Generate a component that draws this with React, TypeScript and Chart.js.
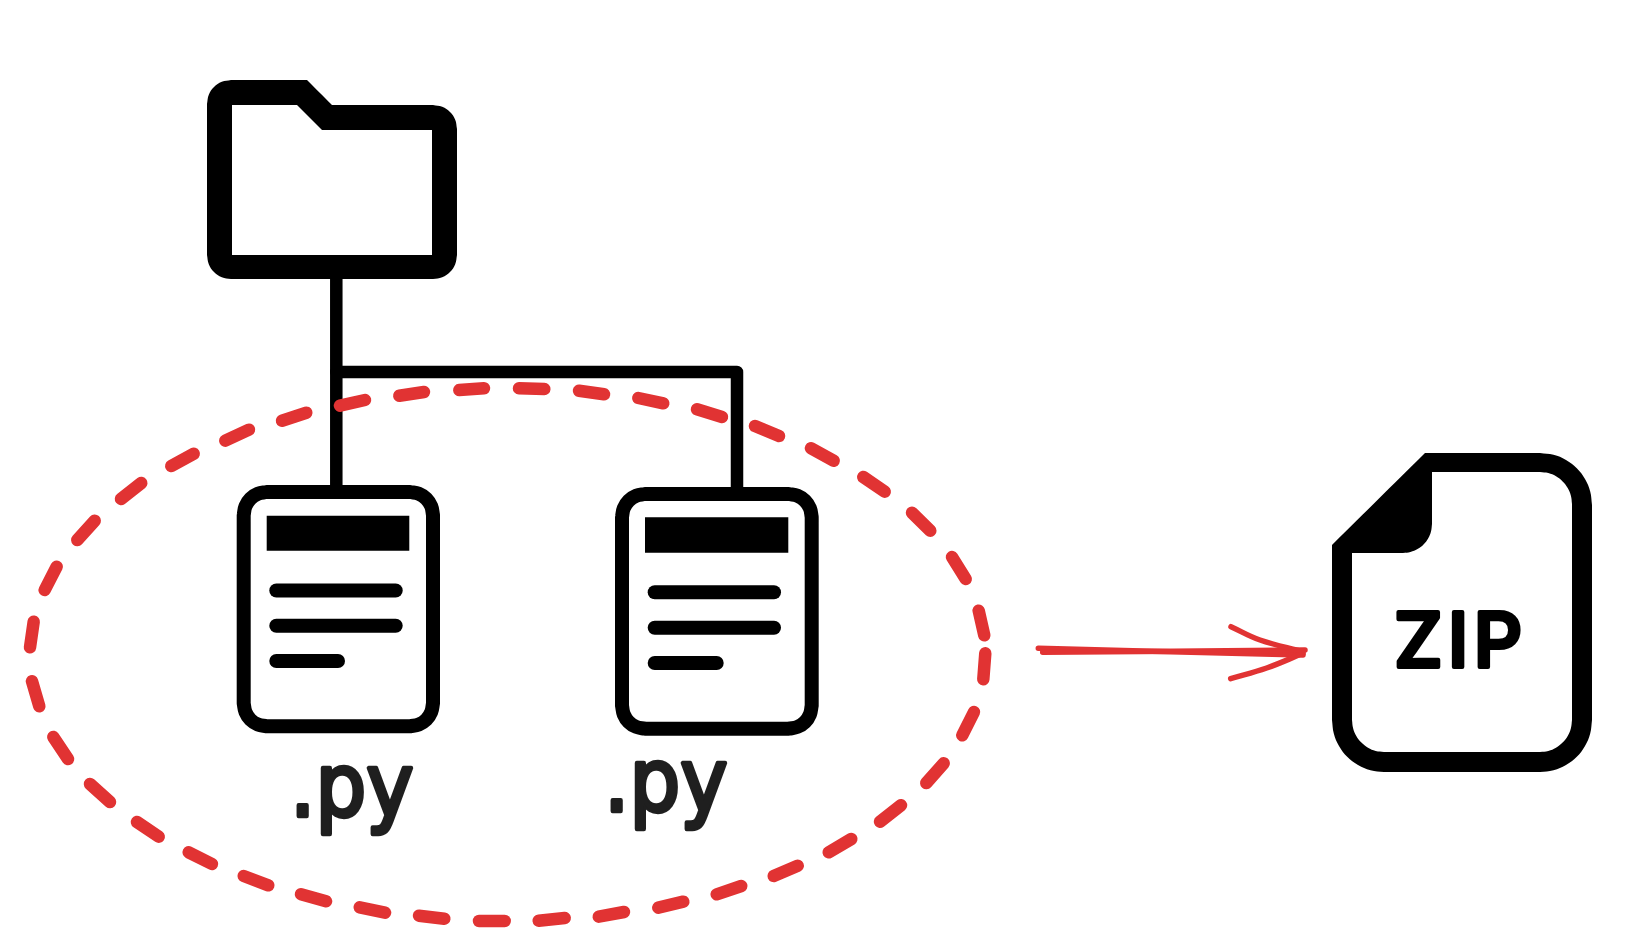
import {useEffect, useRef} from 'react'
import {Chart, registerables} from 'chart.js'
import type {Plugin} from 'chart.js'

Chart.register(...registerables)

type Pair = [number, number]

const ink = '#000000'
const red = '#e13333'
const handInk = '#1f1f1f'
const cornerTension = 0.4

// every list below is read off the picture, in image pixels
// a point listed twice keeps the neighbouring edge straight when the outline is smoothed
const folderOuter: Pair[] = [
    [207, 104], [207, 104], [208.8, 94.8], [214, 87], [221.8, 81.8], [231, 80], [231, 80], [307, 80], [307, 80],
    [332, 105], [332, 105], [433, 105], [433, 105], [442.2, 106.8], [450, 112], [455.2, 119.8], [457, 129],
    [457, 129], [457, 255], [457, 255], [455.2, 264.2], [450, 272], [442.2, 277.2], [433, 279], [433, 279],
    [231, 279], [231, 279], [221.8, 277.2], [214, 272], [208.8, 264.2], [207, 255], [207, 255], [207, 104],
]
const folderInner: Pair[] = [[232, 105], [297, 105], [322, 130], [432, 130], [432, 255], [232, 255], [232, 105]]

const connectorLeft: Pair[] = [[336.3, 279], [336.3, 485]]
const connectorRight: Pair[] = [[336.3, 372], [737, 372], [737, 487]]

const docOneOutline: Pair[] = [
    [243.7, 515], [243.7, 515], [245.5, 506.2], [250.4, 498.7], [257.9, 493.8], [266.7, 492], [266.7, 492],
    [410, 492], [410, 492], [418.8, 493.8], [426.3, 498.7], [431.2, 506.2], [433, 515], [433, 515],
    [433, 703.3], [433, 703.3], [431.2, 712.1], [426.3, 719.6], [418.8, 724.5], [410, 726.3], [410, 726.3],
    [266.7, 726.3], [266.7, 726.3], [257.9, 724.5], [250.4, 719.6], [245.5, 712.1], [243.7, 703.3], [243.7, 703.3],
    [243.7, 515],
]
const docOneHeader: Pair[] = [[266.7, 515.7], [409.3, 515.7], [409.3, 550.7], [266.7, 550.7], [266.7, 515.7]]
const docOneRows: Pair[][] = [
    [[276.3, 590.5], [395.7, 590.5]],
    [[276.3, 625.7], [395.7, 625.7]],
    [[276.3, 661], [338, 661]],
]

const docTwoOutline: Pair[] = [
    [622, 517], [622, 517], [623.8, 508.2], [628.7, 500.7], [636.2, 495.8], [645, 494], [645, 494],
    [788.7, 494], [788.7, 494], [797.5, 495.8], [805, 500.7], [809.9, 508.2], [811.7, 517], [811.7, 517],
    [811.7, 705.7], [811.7, 705.7], [809.9, 714.5], [805, 722], [797.5, 726.9], [788.7, 728.7], [788.7, 728.7],
    [645, 728.7], [645, 728.7], [636.2, 726.9], [628.7, 722], [623.8, 714.5], [622, 705.7], [622, 705.7],
    [622, 517],
]
const docTwoHeader: Pair[] = [[645, 517.3], [788.3, 517.3], [788.3, 552.7], [645, 552.7], [645, 517.3]]
const docTwoRows: Pair[][] = [
    [[654.7, 592.3], [774, 592.3]],
    [[654.7, 627.7], [774, 627.7]],
    [[654.7, 663], [716.7, 663]],
]

const zipOuter: Pair[] = [
    [1332, 545], [1332, 545], [1425, 453], [1425, 453], [1540, 453], [1540, 453], [1553.5, 454.8], [1566, 460],
    [1576.8, 468.2], [1585, 479], [1590.2, 491.5], [1592, 505], [1592, 505], [1592, 720], [1592, 720],
    [1590.2, 733.5], [1585, 746], [1576.8, 756.8], [1566, 765], [1553.5, 770.2], [1540, 772], [1540, 772],
    [1384, 772], [1384, 772], [1370.5, 770.2], [1358, 765], [1347.2, 756.8], [1339, 746], [1333.8, 733.5],
    [1332, 720], [1332, 720], [1332, 545], [1332, 545],
]
const zipInner: Pair[] = [
    [1432, 472], [1432, 472], [1540, 472], [1540, 472], [1548.3, 473.1], [1556, 476.3], [1562.6, 481.4],
    [1567.7, 488], [1570.9, 495.7], [1572, 504], [1572, 504], [1572, 720], [1572, 720], [1570.9, 728.3],
    [1567.7, 736], [1562.6, 742.6], [1556, 747.7], [1548.3, 750.9], [1540, 752], [1540, 752], [1384, 752],
    [1384, 752], [1375.7, 750.9], [1368, 747.7], [1361.4, 742.6], [1356.3, 736], [1353.1, 728.3], [1352, 720],
    [1352, 720], [1352, 553], [1352, 553], [1403, 553], [1403, 553], [1410.5, 552], [1417.5, 549.1],
    [1423.5, 544.5], [1428.1, 538.5], [1431, 531.5], [1432, 524], [1432, 524], [1432, 472], [1432, 472],
]

const ringDashes: Pair[][] = [
    [[30, 647.3], [33.7, 621.7]], [[44.7, 590], [56.7, 566.7]], [[77.3, 540], [94.7, 520.7]],
    [[121, 499], [141.3, 483]], [[171.3, 466], [193.7, 453.7]], [[225.3, 440.7], [249, 429.7]],
    [[282, 420.7], [306.3, 412.7]], [[340, 405.7], [365, 400]], [[399.3, 395.7], [424, 392]],
    [[459.3, 390], [484, 388.3]], [[519, 388.3], [544.3, 389]], [[579, 390.7], [604, 394.3]],
    [[638.3, 398], [663.3, 403.3]], [[697, 409.3], [722, 417]], [[755, 426], [779, 436]],
    [[811, 448.3], [833.7, 460.7]], [[863.3, 477], [884.7, 491.7]], [[912, 512.7], [930.3, 530.7]],
    [[952, 557], [965.7, 579]], [[978.7, 610.7], [984.3, 635.3]], [[985.3, 653.3], [983.3, 679.3]],
    [[974, 712], [962.3, 735.3]], [[943.7, 763.3], [926.3, 783]], [[901, 805.3], [880, 821.7]],
    [[851.3, 839], [828.7, 852.3]], [[797.7, 865.7], [773.7, 876]], [[741.3, 886], [716.7, 894.3]],
    [[683.3, 901.7], [658.3, 907.7]], [[624, 912], [598.7, 916.7]], [[564.7, 918], [538.7, 920.7]],
    [[504.7, 921], [479, 921]], [[444.3, 918.7], [419, 915.7]], [[385, 912.7], [359.7, 907.3]],
    [[326, 901.3], [301, 894.3]], [[268.3, 885.3], [243.7, 876]], [[212, 864], [188.7, 852.3]],
    [[158.7, 836.7], [137, 822]], [[110, 802], [90, 784]], [[68, 759], [53.3, 737]],
    [[39.3, 706.3], [32, 681.3]],
]

const arrowStrokes: Pair[][] = [
    [[1038.3, 648.3], [1303, 655]],
    [[1042.7, 652.3], [1305, 650]],
    [[1231, 626.7], [1260, 640], [1303, 651.7]],
    [[1230.7, 678.7], [1266.7, 668], [1303, 653.3]],
]

const labelTexts = ['.py', '.py', 'ZIP']
const labelX = [290, 604, 1394]
const labelY = [816, 811, 667]
const labelFonts = ['80px "DejaVu Sans"', '80px "DejaVu Sans"', '500 76px Inter']
const labelColors = [handInk, handInk, ink]
const labelOutline = [4, 4, 4]
const labelStretch = [1.1, 1.1, 1]
const labelSpacing = ['0px', '0px', '5px']

const toPoints = (pairs: Pair[]) => pairs.map(([x, y]) => ({x, y}))

const solid = (pairs: Pair[], color: string, tension = 0) => ({
    data: toPoints(pairs),
    fill: 'shape',
    backgroundColor: color,
    borderColor: 'rgba(0,0,0,0)',
    borderWidth: 1,
    tension,
})

const stroke = (pairs: Pair[], color: string, width: number, tension = 0) => ({
    data: toPoints(pairs),
    fill: false,
    borderColor: color,
    borderWidth: width,
    borderCapStyle: 'round',
    borderJoinStyle: 'round',
    tension,
})

const labelPlugin: Plugin<'scatter'> = {
    id: 'diagramLabels',
    afterDatasetsDraw(chart) {
        const {ctx, scales} = chart
        labelTexts.forEach((text, i) => {
            ctx.save()
            ctx.translate(scales.x.getPixelForValue(labelX[i]), scales.y.getPixelForValue(labelY[i]))
            ctx.scale(1, labelStretch[i])
            ctx.textBaseline = 'alphabetic'
            ctx.lineJoin = 'round'
            ctx.letterSpacing = labelSpacing[i]
            ctx.font = labelFonts[i]
            ctx.fillStyle = labelColors[i]
            ctx.strokeStyle = labelColors[i]
            ctx.lineWidth = labelOutline[i]
            ctx.strokeText(text, 0, 0)
            ctx.fillText(text, 0, 0)
            ctx.restore()
        })
    },
}

function App() {
    const canvasRef = useRef<HTMLCanvasElement>(null)

    useEffect(() => {
        if (!canvasRef.current) return

        // later entries are painted over earlier ones
        const shapes: any[] = [
            stroke(connectorLeft, ink, 12.5),
            stroke(connectorRight, ink, 12.5),
            solid(folderOuter, ink, cornerTension),
            solid(folderInner, '#ffffff'),
            stroke(docOneOutline, ink, 14, cornerTension),
            solid(docOneHeader, ink),
            ...docOneRows.map((row) => stroke(row, ink, 14)),
            stroke(docTwoOutline, ink, 14, cornerTension),
            solid(docTwoHeader, ink),
            ...docTwoRows.map((row) => stroke(row, ink, 14)),
            solid(zipOuter, ink, cornerTension),
            solid(zipInner, '#ffffff', cornerTension),
            ...ringDashes.map((dash) => stroke(dash, red, 12.5)),
            ...arrowStrokes.map((line) => stroke(line, red, 5.5, cornerTension)),
        ]

        const chart = new Chart(canvasRef.current, {
            type: 'scatter',
            data: {
                datasets: shapes.map((shape, i) => ({
                    ...shape,
                    showLine: true,
                    pointRadius: 0,
                    order: shapes.length - i,
                })),
            },
            options: {
                responsive: false,
                animation: false,
                layout: {padding: 0},
                plugins: {
                    legend: {display: false},
                    tooltip: {enabled: false},
                },
                scales: {
                    x: {type: 'linear', min: 0, max: 1651, display: false},
                    y: {type: 'linear', min: 0, max: 951, reverse: true, display: false},
                },
            },
            plugins: [labelPlugin],
        })

        return () => chart.destroy()
    }, [])

    return (
        <div style={{position: 'absolute', left: 0, top: 0, background: '#ffffff'}}>
            <canvas ref={canvasRef} width={1651} height={951} style={{display: 'block'}}/>
        </div>
    )
}

export default App
